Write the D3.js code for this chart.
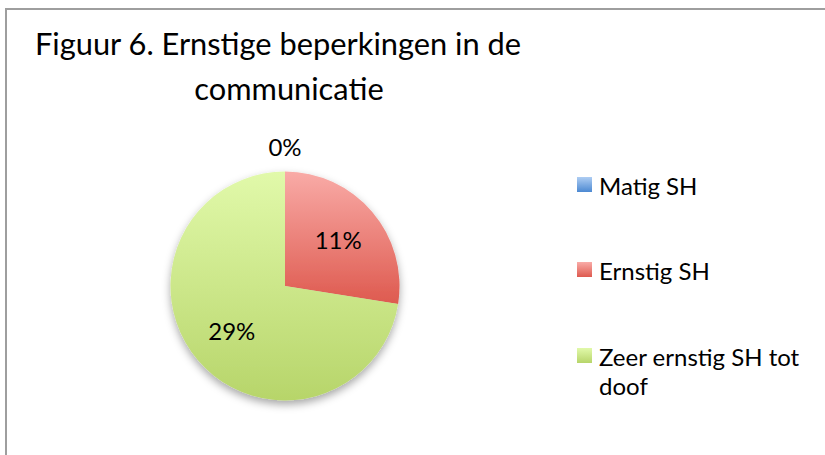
<!DOCTYPE html>
<html>
<head>
<meta charset="utf-8">
<script src="https://cdn.jsdelivr.net/npm/d3@7"></script>
<style>
  html, body { margin: 0; padding: 0; background: #fff; }
  svg text { font-family: Lato, "Open Sans", sans-serif; fill: #000; }
</style>
</head>
<body>
<svg id="chart" width="825" height="455"></svg>
<script>
const titleLines = ["Figuur 6. Ernstige beperkingen in de", "communicatie"];
const categories = ["Matig SH", "Ernstig SH", "Zeer ernstig SH tot doof"];
const legendLines = [["Matig SH"], ["Ernstig SH"], ["Zeer ernstig SH tot", "doof"]];
const values = [0, 11, 29];
const valueLabels = ["0%", "11%", "29%"];
const colorTop = ["#aecdf3", "#f9aba7", "#e1f9aa"];
const colorBottom = ["#4c89d2", "#de5a4f", "#b7d56a"];

const svg = d3.select("#chart");
const defs = svg.append("defs");

categories.forEach((c, i) => {
  const g = defs.append("linearGradient").attr("id", "grad" + i)
    .attr("x1", 0).attr("y1", 0).attr("x2", 0).attr("y2", 1);
  g.append("stop").attr("offset", "0%").attr("stop-color", colorTop[i]);
  g.append("stop").attr("offset", "100%").attr("stop-color", colorBottom[i]);
});

const shadow = defs.append("filter").attr("id", "shadow")
  .attr("x", "-20%").attr("y", "-20%").attr("width", "140%").attr("height", "150%");
shadow.append("feDropShadow").attr("dx", 0).attr("dy", 4).attr("stdDeviation", 4)
  .attr("flood-color", "#000").attr("flood-opacity", 0.35);

// chart frame
svg.append("rect").attr("x", 6).attr("y", 9).attr("width", 830).attr("height", 460)
  .attr("fill", "none").attr("stroke", "#9e9e9e").attr("stroke-width", 2);

// title
const titlePos = [[278, 55], [289, 100]];
svg.append("g").selectAll("text").data(titleLines).join("text")
  .attr("x", (d, i) => titlePos[i][0]).attr("y", (d, i) => titlePos[i][1])
  .attr("text-anchor", "middle").style("font-size", "30.8px").text(d => d);

// pie
const cx = 285, cy = 286, R = 114.5;
const pie = d3.pie().sort(null).value(d => d)(values);
const arc = d3.arc().innerRadius(0).outerRadius(R);
const gPie = svg.append("g").attr("transform", `translate(${cx},${cy})`);
const gSl = gPie.append("g").attr("filter", "url(#shadow)");
gSl.selectAll("path").data(pie).join("path")
  .attr("d", arc)
  .attr("fill", (d, i) => `url(#grad${i})`);

const labelArc = d3.arc().innerRadius(70).outerRadius(70);
const outerArc = d3.arc().innerRadius(R + 24).outerRadius(R + 24);
gPie.selectAll("text.lbl").data(pie).join("text").attr("class", "lbl")
  .attr("transform", d => {
    const c = (d.value === 0 ? outerArc : labelArc).centroid(d);
    return `translate(${c[0]},${c[1]})`;
  })
  .attr("text-anchor", "middle").attr("dy", "0.35em")
  .style("font-size", "24px")
  .text((d, i) => valueLabels[i]);

// legend
const legendY = [177, 262, 348];
const lg = svg.append("g");
categories.forEach((c, i) => {
  lg.append("rect").attr("x", 577).attr("y", legendY[i]).attr("width", 15).attr("height", 15)
    .attr("fill", `url(#grad${i})`);
  const t = lg.append("text").attr("x", 599).attr("y", legendY[i] + 18).style("font-size", "24px");
  legendLines[i].forEach((line, j) => {
    t.append("tspan").attr("x", 599).attr("dy", j === 0 ? 0 : 29).text(line);
  });
});
</script>
</body>
</html>
